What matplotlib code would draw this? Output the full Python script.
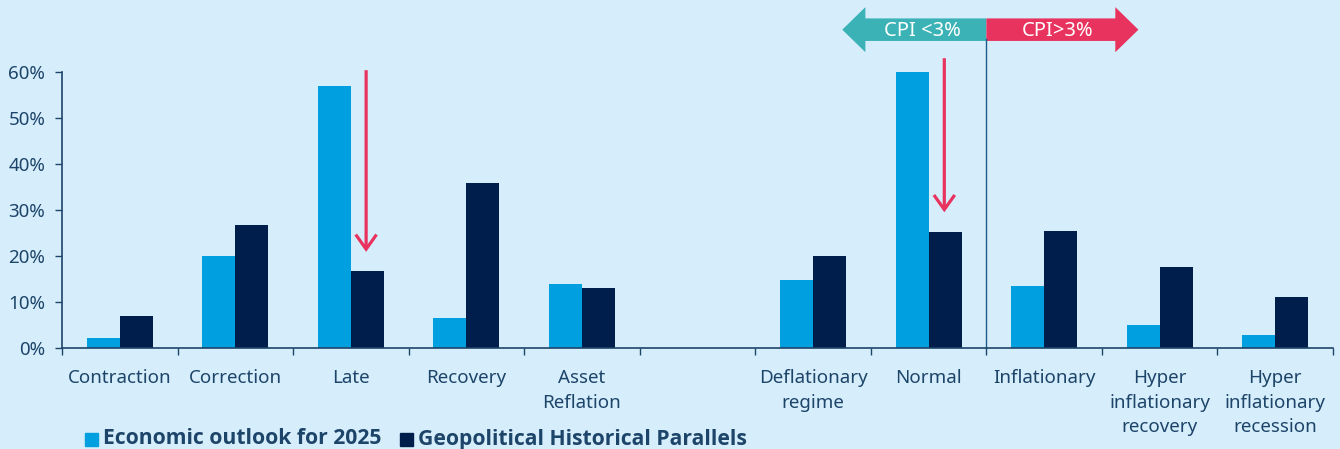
import matplotlib
matplotlib.use("Agg")
import matplotlib.pyplot as plt
from matplotlib.patches import FancyArrow, Rectangle

categories = ["Contraction", "Correction", "Late", "Recovery", "Asset\nReflation", "",
              "Deflationary\nregime", "Normal", "Inflationary",
              "Hyper\ninflationary\nrecovery", "Hyper\ninflationary\nrecession"]
econ_2025 = [2.2, 20.0, 57.0, 6.5, 13.9, None, 14.8, 60.0, 13.5, 5.0, 2.8]
geo_parallels = [7.0, 26.7, 16.7, 35.9, 13.0, None, 20.0, 25.2, 25.4, 17.6, 11.1]
series_names = ["Economic outlook for 2025", "Geopolitical Historical Parallels"]
yticks = [0, 10, 20, 30, 40, 50, 60]

BG = "#D6EEFC"
LIGHT = "#009FE0"
DARK = "#001E4B"
TXT = "#1D4469"
RED = "#E8335E"
TEAL = "#3AB2B6"

plt.rcParams['font.family'] = ['Noto Sans', 'DejaVu Sans']

fig = plt.figure(figsize=(13.4, 4.49), dpi=100, facecolor=BG)
ax = fig.add_axes([62/1340, 101/449, 1271/1340, 276/449], facecolor=BG)

n = len(categories)
x = list(range(n))
w = 0.285
for i in x:
    if econ_2025[i] is not None:
        ax.bar(i - w/2, econ_2025[i], width=w, color=LIGHT)
    if geo_parallels[i] is not None:
        ax.bar(i + w/2, geo_parallels[i], width=w, color=DARK)

ax.set_xlim(-0.5, n - 0.5)
ax.set_ylim(0, 60)
ax.set_yticks(yticks)
ax.set_yticklabels([f"{v}%" for v in yticks])
ax.set_xticks([i - 0.5 for i in range(n + 1)])
ax.set_xticklabels([])
ax.set_xticks(x, minor=True)
ax.set_xticklabels(categories, minor=True, linespacing=1.48)
ax.tick_params(axis='x', which='minor', length=0, pad=15, labelsize=13.5, labelcolor=TXT)
ax.tick_params(axis='x', which='major', length=5, width=1, color=TXT)
ax.tick_params(axis='y', length=5, width=1, color=TXT, labelsize=13.5, labelcolor=TXT, pad=7)
for s in ['top', 'right']:
    ax.spines[s].set_visible(False)
for s in ['left', 'bottom']:
    ax.spines[s].set_color(TXT)
    ax.spines[s].set_linewidth(1.2)

# Divider CPI
ax.plot([7.5, 7.5], [0, 67.2], color="#1E5A8A", lw=1, clip_on=False)

# CPI arrows
ax.add_patch(FancyArrow(7.5, 69.2, -1.247, 0, width=4.9, head_width=9.8, head_length=0.2,
                        length_includes_head=True, color=TEAL, lw=0, clip_on=False))
ax.add_patch(FancyArrow(7.5, 69.2, 1.316, 0, width=4.9, head_width=9.8, head_length=0.2,
                        length_includes_head=True, color=RED, lw=0, clip_on=False))
ax.text(6.95, 69.0, "CPI <3%", color="white", fontsize=14.5, ha='center', va='center', clip_on=False)
ax.text(8.12, 69.0, "CPI>3%", color="white", fontsize=14.5, ha='center', va='center', clip_on=False)

# Red down arrows
for xa, y0, y1 in [(2.132, 60.4, 20.9), (7.136, 63.0, 29.5)]:
    ax.annotate("", xy=(xa, y1), xytext=(xa, y0),
                arrowprops=dict(arrowstyle="->,head_length=1.05,head_width=0.75", color=RED, lw=2.3,
                                shrinkA=0, shrinkB=0, joinstyle='miter', capstyle='butt'),
                annotation_clip=False)

# Legend
colors = [LIGHT, DARK]
lx = [85, 400]
tx = [103, 418]
for c, sx, t, name in zip(colors, lx, tx, series_names):
    fig.patches.append(Rectangle((sx/1340, (449-446)/449), 13/1340, 13/449, transform=fig.transFigure,
                                 color=c, figure=fig))
    fig.text(t/1340, (449-439)/449, name, fontsize=15.2, fontweight='bold', color=TXT,
             va='center', ha='left', family=['Open Sans', 'DejaVu Sans'])

fig.savefig("out.png", dpi=100, facecolor=BG)
